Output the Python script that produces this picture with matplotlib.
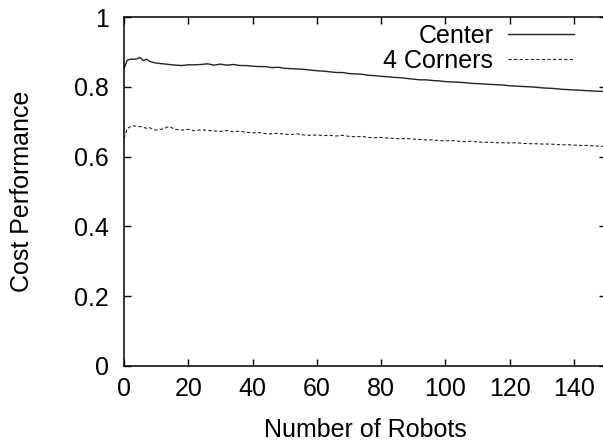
import matplotlib
matplotlib.use('Agg')
import matplotlib.pyplot as plt

# Data
robots = [0, 1, 2, 3, 4, 5, 6, 7, 8, 9, 10,
          12, 14, 16, 18, 20, 22, 24, 26, 28, 30,
          32, 34, 36, 38, 40, 42, 44, 46, 48, 50,
          52, 54, 56, 58, 60, 62, 64, 66, 68, 70,
          72, 74, 76, 78, 80, 82, 84, 86, 88, 90,
          92, 94, 96, 98, 100, 102, 104, 106, 108, 110,
          112, 114, 116, 118, 120, 122, 124, 126, 128, 130,
          132, 134, 136, 138, 140, 142, 144, 146, 148, 150]

center = [0.852, 0.876, 0.879, 0.879, 0.880, 0.884, 0.875, 0.879, 0.873, 0.870, 0.868,
          0.866, 0.864, 0.862, 0.861, 0.863, 0.863, 0.864, 0.866, 0.862, 0.865,
          0.862, 0.864, 0.861, 0.861, 0.859, 0.858, 0.858, 0.855, 0.856, 0.853,
          0.852, 0.851, 0.850, 0.848, 0.846, 0.845, 0.843, 0.841, 0.841, 0.838,
          0.837, 0.836, 0.833, 0.832, 0.830, 0.829, 0.827, 0.826, 0.824, 0.822,
          0.820, 0.820, 0.818, 0.817, 0.815, 0.814, 0.813, 0.812, 0.810, 0.809,
          0.808, 0.807, 0.806, 0.805, 0.803, 0.802, 0.801, 0.800, 0.799, 0.797,
          0.796, 0.795, 0.793, 0.792, 0.791, 0.790, 0.789, 0.788, 0.787, 0.787]

corners = [0.652, 0.680, 0.686, 0.688, 0.687, 0.686, 0.684, 0.681, 0.683, 0.678, 0.676,
           0.679, 0.686, 0.678, 0.676, 0.678, 0.674, 0.677, 0.675, 0.674, 0.672,
           0.675, 0.671, 0.673, 0.670, 0.668, 0.669, 0.666, 0.665, 0.667, 0.664,
           0.663, 0.665, 0.662, 0.661, 0.662, 0.660, 0.661, 0.659, 0.661, 0.658,
           0.657, 0.658, 0.655, 0.654, 0.655, 0.653, 0.652, 0.651, 0.652, 0.650,
           0.649, 0.648, 0.648, 0.646, 0.645, 0.646, 0.644, 0.643, 0.644, 0.642,
           0.641, 0.641, 0.640, 0.640, 0.639, 0.640, 0.638, 0.637, 0.637, 0.636,
           0.636, 0.635, 0.634, 0.634, 0.633, 0.632, 0.632, 0.631, 0.630, 0.629]

x_ticks = [0, 20, 40, 60, 80, 100, 120, 140]
y_ticks = [0, 0.2, 0.4, 0.6, 0.8, 1]
y_labels = ['0', '0.2', '0.4', '0.6', '0.8', '1']

plt.rcParams['font.family'] = ['Liberation Sans', 'DejaVu Sans']
plt.rcParams['font.size'] = 18

fig = plt.figure(figsize=(6.03, 4.44), dpi=100)
ax = fig.add_axes([0.2056, 0.1757, 0.7994, 0.786])

ax.plot(robots, center, color='#222222', lw=1.0, label='Center')
ax.plot(robots, corners, color='#222222', lw=0.8, linestyle=(0, (3, 2)), label='4 Corners')

ax.set_xlim(0, 150)
ax.set_ylim(0, 1)
ax.set_xticks(x_ticks)
ax.set_yticks(y_ticks)
ax.set_yticklabels(y_labels)
ax.tick_params(direction='in', length=5, width=1, top=True, right=True)
ax.tick_params(axis='y', pad=11)
ax.tick_params(axis='x', pad=8)

for s in ax.spines.values():
    s.set_linewidth(1.1)

ax.set_xlabel('Number of Robots', labelpad=12)
ax.set_ylabel('Cost Performance', labelpad=29)

ax.legend(loc='upper right', bbox_to_anchor=(0.955, 1.01), frameon=False,
          markerfirst=False, handlelength=2.64, handletextpad=0.6,
          labelspacing=0.05, borderaxespad=0)

fig.savefig('out.png', dpi=100)
